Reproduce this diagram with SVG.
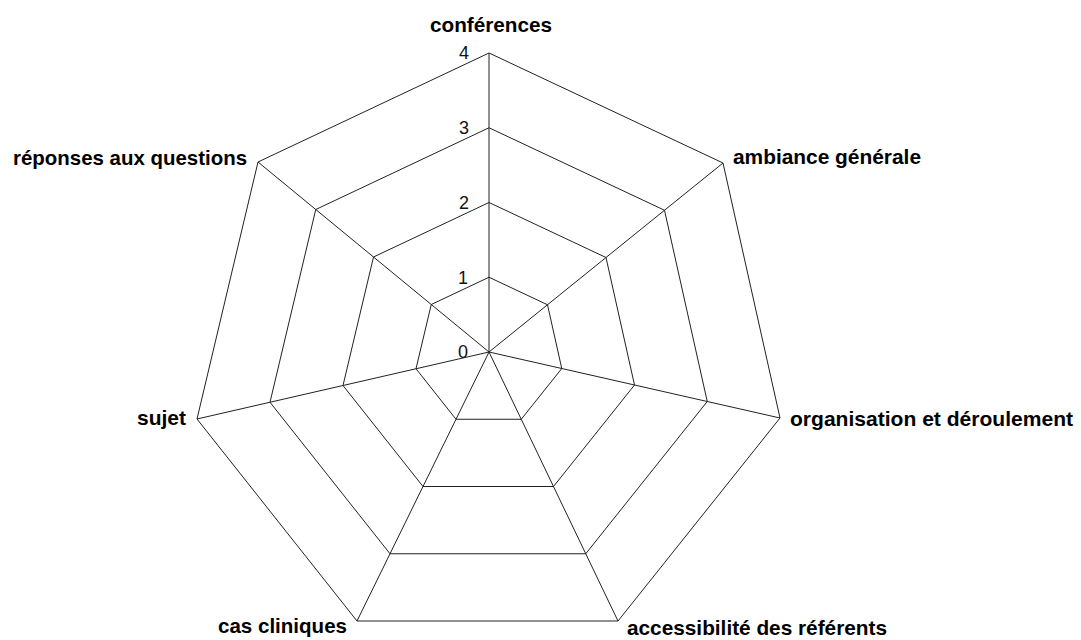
<svg xmlns="http://www.w3.org/2000/svg" width="1081" height="640" viewBox="0 0 1081 640">
  <style>
    .grid { fill: none; stroke: #222; stroke-width: 1; stroke-linejoin: miter; }
    .axis { stroke: #222; stroke-width: 1; }
    .lbl { font-family: "Liberation Sans", Arial, sans-serif; font-weight: bold; font-size: 21px; fill: #000; }
    .num { font-family: "Liberation Sans", Arial, sans-serif; font-size: 18px; fill: #111; text-anchor: end; }
  </style>
  <rect x="0" y="0" width="1081" height="640" fill="#fff"/>
  <g id="grid">
    <polygon class="grid" points="489,277.25 547.5,304.75 561.75,368.5 521.25,419.25 456,419.25 416,368.75 431.25,304.5"/>
    <polygon class="grid" points="489,202.5 606,257.5 634.5,385 553.5,486.5 423,486.5 343,385.5 373.5,257"/>
    <polygon class="grid" points="489,127.75 664.5,210.25 707.25,401.5 585.75,553.75 390,553.75 270,402.25 315.75,209.5"/>
    <polygon class="grid" points="489,53 723,163 780,418 618,621 357,621 197,419 258,162"/>
  </g>
  <g id="axes">
    <line class="axis" x1="489" y1="352" x2="489" y2="53"/>
    <line class="axis" x1="489" y1="352" x2="723" y2="163"/>
    <line class="axis" x1="489" y1="352" x2="780" y2="418"/>
    <line class="axis" x1="489" y1="352" x2="618" y2="621"/>
    <line class="axis" x1="489" y1="352" x2="357" y2="621"/>
    <line class="axis" x1="489" y1="352" x2="197" y2="419"/>
    <line class="axis" x1="489" y1="352" x2="258" y2="162"/>
  </g>
  <g id="scale">
    <text class="num" x="469" y="59">4</text>
    <text class="num" x="469" y="134">3</text>
    <text class="num" x="469" y="209">2</text>
    <text class="num" x="468" y="284">1</text>
    <text class="num" x="468" y="358">0</text>
  </g>
  <g id="label-conferences"><text class="lbl" x="430" y="32" textLength="122" lengthAdjust="spacingAndGlyphs">conférences</text></g>
  <g id="label-ambiance"><text class="lbl" x="733" y="164" textLength="188" lengthAdjust="spacingAndGlyphs">ambiance générale</text></g>
  <g id="label-organisation"><text class="lbl" x="790" y="426" textLength="283" lengthAdjust="spacingAndGlyphs">organisation et déroulement</text></g>
  <g id="label-accessibilite"><text class="lbl" x="627" y="635" textLength="260" lengthAdjust="spacingAndGlyphs">accessibilité des référents</text></g>
  <g id="label-cas"><text class="lbl" x="218" y="633" textLength="129" lengthAdjust="spacingAndGlyphs">cas cliniques</text></g>
  <g id="label-sujet"><text class="lbl" x="186" y="425" text-anchor="end">sujet</text></g>
  <g id="label-reponses"><text class="lbl" x="13" y="165" textLength="234" lengthAdjust="spacingAndGlyphs">réponses aux questions</text></g>
</svg>
